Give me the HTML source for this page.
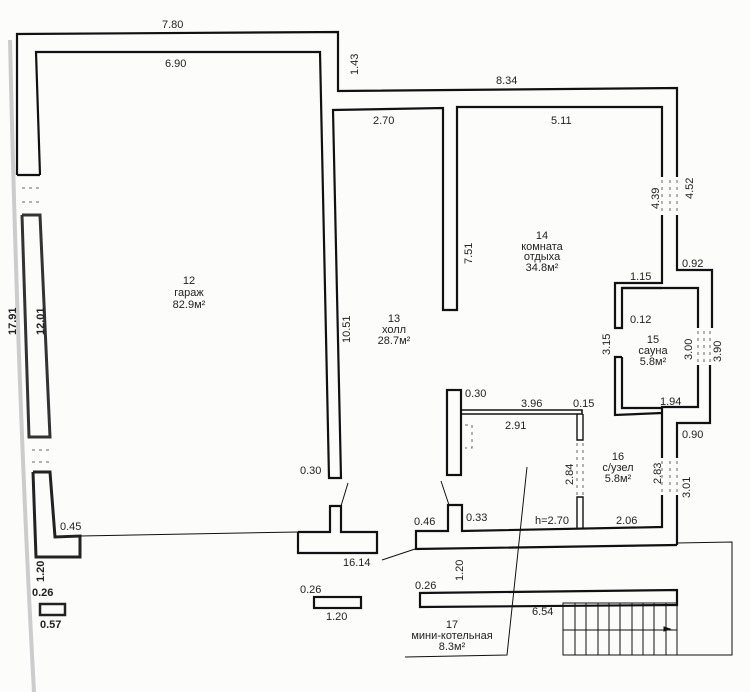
<!DOCTYPE html>
<html><head><meta charset="utf-8"><style>
html,body{margin:0;padding:0;background:#fcfcfb;}
svg{display:block}
text{font-family:"Liberation Sans","DejaVu Sans",sans-serif;fill:#222;font-size:11px}
</style></head><body>
<svg width="750" height="692" viewBox="0 0 750 692" xmlns="http://www.w3.org/2000/svg">
<rect width="750" height="692" fill="#fcfcfb"/>
<!-- scan edge -->
<path d="M10 40 Q18 400 34 692" stroke="#ccc" stroke-width="4" fill="none"/>
<g fill="none" stroke="#111" stroke-width="2.2">
<!-- top outer -->
<polyline points="17,175 17,34 338,32 338,91 677,88 677,177"/>
<polyline points="40,175 36,52 320,52 329,478 341,478 333,110 443,108 443,310 457,310 457,107 662,107 662,177"/>
<!-- left wall segments -->
<polyline points="17,175 40,175" />
<polyline points="22,215 40,215 50,437 29,437 22,215" stroke="#333" stroke-width="3"/>
<polyline points="33,472 50,472 55,537 80,536 80,557 36,557 33,472" stroke="#222" stroke-width="3"/>
<!-- right side -->
<polyline points="677,215 677,270 712,270 712,328"/>
<polyline points="662,215 662,283 615,283 615,328 622,328 622,288 698,288 698,328"/>
<line x1="622" y1="288" x2="662" y2="288"/>
<polyline points="710,365 710,423 677,423 677,458"/>
<polyline points="698,365 698,407 662,407 662,458"/>
<polyline points="622,357 615,357 615,415 662,413"/>
<polyline points="622,357 622,408 662,408"/>
<polyline points="677,495 677,545"/>
<polyline points="662,495 662,527 462,531 462,505 448,505 448,531 416,531 416,549 677,545"/>
<!-- T -->
<polyline points="298,532 330,532 330,506 341,506 341,532 377,532 377,553 298,553 298,532"/>
<!-- hall door wall -->
<rect x="447" y="390" width="14" height="85"/>
<polyline points="461,410 582,410 582,414 461,414" stroke-width="1.6"/>
<polyline points="577,414 577,440 583,440 583,414" stroke-width="1.4"/>
<polyline points="577,528 577,497 583,497 583,528" stroke-width="1.4"/>
<!-- lower walls -->
<polygon points="420,593 677,590 677,605 420,607"/>
<rect x="314" y="597" width="47" height="11"/>
</g>
<g stroke="#111" stroke-width="1" fill="none">
<line x1="80" y1="536" x2="298" y2="532"/>
<line x1="382" y1="560" x2="415" y2="549"/>
<line x1="348" y1="483" x2="341" y2="506"/>
<line x1="441" y1="481" x2="449" y2="505"/>
<polyline points="527,467 507,655 405,657"/>
<polyline points="677,543 732,542 732,655 563,655"/>
<line x1="677" y1="605" x2="677" y2="655"/>
<rect x="563" y="603" width="114" height="52"/>
<line x1="563" y1="630" x2="677" y2="630"/>
<line x1="575" y1="603" x2="575" y2="655"/><line x1="586" y1="603" x2="586" y2="655"/>
<line x1="598" y1="603" x2="598" y2="655"/><line x1="609" y1="603" x2="609" y2="655"/>
<line x1="620" y1="603" x2="620" y2="655"/><line x1="632" y1="603" x2="632" y2="655"/>
<line x1="643" y1="603" x2="643" y2="655"/><line x1="654" y1="603" x2="654" y2="655"/>
<line x1="666" y1="603" x2="666" y2="655"/>
<!-- window dashes -->
<g stroke-dasharray="3,4" stroke="#666">
<line x1="662" y1="180" x2="662" y2="213"/><line x1="670" y1="180" x2="670" y2="213"/><line x1="677" y1="180" x2="677" y2="213"/>
<line x1="698" y1="331" x2="698" y2="363"/><line x1="704" y1="331" x2="704" y2="363"/><line x1="710" y1="331" x2="710" y2="363"/>
<line x1="662" y1="461" x2="662" y2="493"/><line x1="670" y1="461" x2="670" y2="493"/><line x1="677" y1="461" x2="677" y2="493"/>
<line x1="577" y1="443" x2="577" y2="495"/><line x1="583" y1="443" x2="583" y2="495"/>
<line x1="22" y1="188" x2="40" y2="188"/><line x1="22" y1="202" x2="40" y2="202"/>
<line x1="32" y1="450" x2="50" y2="450"/><line x1="32" y1="462" x2="50" y2="462"/>
<polyline points="465,425 472,425 472,448 465,448"/>
</g>
<polygon points="664,631 670,629 664,627" fill="#111"/>
</g>
<rect x="40" y="604" width="25" height="11" fill="none" stroke="#222" stroke-width="2.5"/>
<!-- labels -->
<text x="162" y="28" font-size="12">7.80</text>
<text x="165" y="67">6.90</text>
<text x="358" y="75" transform="rotate(-90 358 75)" font-size="11">1.43</text>
<text x="496" y="84" font-size="12">8.34</text>
<text x="373" y="124">2.70</text>
<text x="551" y="124">5.11</text>
<text x="472" y="264" transform="rotate(-90 472 264)">7.51</text>
<text x="659" y="209" transform="rotate(-90 659 209)">4.39</text>
<text x="693" y="199" transform="rotate(-90 693 199)">4.52</text>
<text x="682" y="267">0.92</text>
<text x="630" y="280">1.15</text>
<text x="630" y="323">0.12</text>
<text x="610" y="355" transform="rotate(-90 610 355)">3.15</text>
<text x="692" y="360" transform="rotate(-90 692 360)">3.00</text>
<text x="721" y="362" transform="rotate(-90 721 362)">3.90</text>
<text x="660" y="405">1.94</text>
<text x="682" y="438">0.90</text>
<text x="661" y="484" transform="rotate(-90 661 484)">2.83</text>
<text x="690" y="498" transform="rotate(-90 690 498)">3.01</text>
<text x="465" y="397">0.30</text>
<text x="521" y="407">3.96</text>
<text x="573" y="407">0.15</text>
<text x="505" y="429">2.91</text>
<text x="573" y="485" transform="rotate(-90 573 485)">2.84</text>
<text x="466" y="521">0.33</text>
<text x="535" y="524">h=2.70</text>
<text x="616" y="524">2.06</text>
<text x="414" y="525">0.46</text>
<text x="300" y="474">0.30</text>
<text x="343" y="566">16.14</text>
<text x="300" y="593">0.26</text>
<text x="326" y="620">1.20</text>
<text x="415" y="589">0.26</text>
<text x="463" y="581" transform="rotate(-90 463 581)">1.20</text>
<text x="532" y="615">6.54</text>
<text x="350" y="343" transform="rotate(-90 350 343)">10.51</text>
<text x="44" y="335" transform="rotate(-90 44 335)" font-weight="bold" font-size="10">12.01</text>
<text x="16" y="335" transform="rotate(-90 16 335)" font-weight="bold" font-size="10">17.91</text>
<text x="60" y="530" font-size="10">0.45</text>
<text x="44" y="582" transform="rotate(-90 44 582)" font-size="9" font-weight="bold">1.20</text>
<text x="32" y="596" font-size="9" font-weight="bold">0.26</text>
<text x="40" y="628" font-size="9" font-weight="bold">0.57</text>
<g text-anchor="middle">
<text x="189" y="284">12</text><text x="189" y="296">гараж</text><text x="189" y="308">82.9м²</text>
<text x="394" y="322">13</text><text x="394" y="333">холл</text><text x="394" y="344">28.7м²</text>
<text x="542" y="239">14</text><text x="542" y="250">комната</text><text x="542" y="260">отдыха</text><text x="542" y="271">34.8м²</text>
<text x="653" y="343">15</text><text x="653" y="354">сауна</text><text x="653" y="365">5.8м²</text>
<text x="618" y="460">16</text><text x="618" y="471">с/узел</text><text x="618" y="482">5.8м²</text>
<text x="452" y="628">17</text><text x="452" y="639">мини-котельная</text><text x="452" y="650">8.3м²</text>
</g>
</svg>
</body></html>
